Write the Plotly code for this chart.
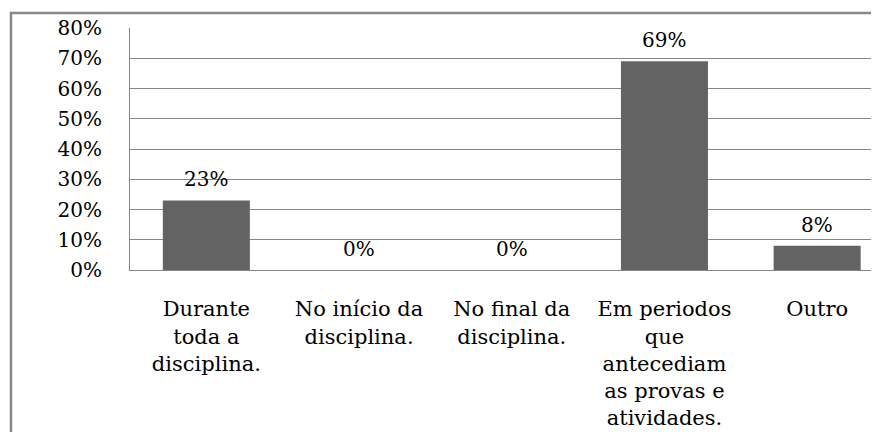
import plotly.graph_objects as go

categories = [
    "Durante<br>toda a<br>disciplina.",
    "No início da<br>disciplina.",
    "No final da<br>disciplina.",
    "Em periodos<br>que<br>antecediam<br>as provas e<br>atividades.",
    "Outro",
]
values = [23, 0, 0, 69, 8]
labels = ["23%", "0%", "0%", "69%", "8%"]
y_ticks = [0, 10, 20, 30, 40, 50, 60, 70, 80]
y_ticktext = ["0%", "10%", "20%", "30%", "40%", "50%", "60%", "70%", "80%"]
grid_vals = [10, 20, 30, 40, 50, 60, 70]

font = "DejaVu Serif"
grey = "#868686"

fig = go.Figure(go.Bar(
    x=list(range(len(categories))),
    y=values,
    width=0.57,
    marker=dict(color="#636363", line=dict(width=0)),
    hoverinfo="skip",
))

for i, (v, t) in enumerate(zip(values, labels)):
    fig.add_annotation(x=i, y=v, text=t, showarrow=False, yanchor="middle",
                       yshift=21, font=dict(family=font, size=20, color="black"))

# outer frame of the chart (right and bottom run off the picture)
fig.add_shape(type="rect", xref="paper", yref="paper",
              x0=-0.1589, x1=1.05, y0=-0.75, y1=1.062,
              line=dict(color="#878787", width=2.5), fillcolor="rgba(0,0,0,0)")

# page body has an 8px margin, so margins are trimmed by 8
fig.update_layout(
    width=879, height=432,
    margin=dict(l=122, r=8, t=20, b=170),
    paper_bgcolor="white", plot_bgcolor="white",
    showlegend=False,
    font=dict(family=font, color="black"),
)
fig.update_xaxes(
    range=[-0.5, 4.405],
    tickvals=list(range(len(categories))), ticktext=categories,
    tickfont=dict(family=font, size=21, color="black"),
    showgrid=False, zeroline=False, ticks="",
    showline=True, linecolor=grey, linewidth=1,
    ticklabelstandoff=20, fixedrange=True,
)
fig.update_yaxes(
    range=[0, 80],
    tickvals=y_ticks, ticktext=y_ticktext,
    tickfont=dict(family=font, size=20, color="black"),
    showgrid=False, zeroline=False, ticks="",
    showline=True, linecolor=grey, linewidth=1,
    minor=dict(tickvals=grid_vals, showgrid=True, gridcolor=grey, gridwidth=1, ticks=""),
    ticklabelstandoff=23, fixedrange=True,
)

fig.write_html("out.html")
